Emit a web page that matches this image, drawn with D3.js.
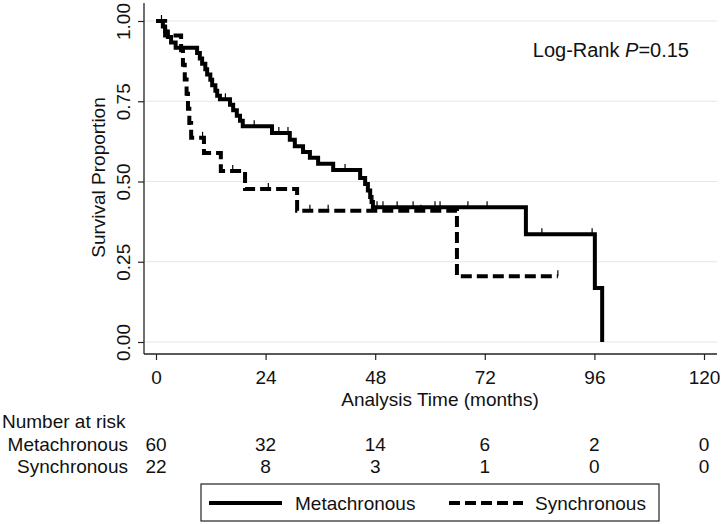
<!DOCTYPE html>
<html>
<head>
<meta charset="utf-8">
<script src="https://cdn.jsdelivr.net/npm/d3@7"></script>
<style>
  html, body { margin: 0; padding: 0; background: #fff; }
  svg { display: block; }
  text { font-family: "Liberation Sans", Arial, Helvetica, sans-serif; fill: #111; }
</style>
</head>
<body>
<div id="chart"></div>
<script>
// ---------------- data ----------------
const groups = ["Metachronous", "Synchronous"];

// Kaplan–Meier steps (time in months, survival after the event)
const metaTimes = [1.5, 2.0, 2.6, 3.3, 4.3, 9.0, 9.6, 10.1, 10.8, 11.2, 11.9, 12.3, 13.0, 13.4, 14.0,
                   16.2, 16.9, 17.7, 18.4, 19.0, 25.4, 29.3, 30.4, 32.2, 33.7, 35.5, 38.8,
                   44.7, 45.8, 46.4, 46.9, 47.2, 47.5, 81.0, 96.1, 97.7];
const metaSurv  = [0.983, 0.967, 0.950, 0.933, 0.917, 0.900, 0.883, 0.867, 0.850, 0.833, 0.817, 0.800, 0.783, 0.767, 0.756,
                   0.739, 0.722, 0.705, 0.689, 0.672, 0.651, 0.630, 0.610, 0.592, 0.574, 0.555, 0.536,
                   0.511, 0.492, 0.472, 0.452, 0.436, 0.420, 0.336, 0.168, 0.000];
const metaCensored = [1.2, 13.6, 15.2, 21.5, 26.9, 28.9, 41.4, 48.4, 49.7, 52.8, 56.3, 61.1, 62.2, 68.3, 72.5, 84.5, 95.5];
const metaEnd = 97.7;

const syncTimes = [2.0, 5.5, 5.9, 6.3, 6.7, 7.0, 7.3, 7.7, 10.5, 14.2, 19.5, 30.9, 65.9];
const syncSurv  = [0.955, 0.909, 0.864, 0.818, 0.773, 0.727, 0.682, 0.636, 0.589, 0.533, 0.477, 0.409, 0.205];
const syncCensored = [10.2, 16.8, 24.6, 33.7, 37.7, 58.0, 88.0];
const syncEnd = 88.0;

// axes
const xTicks = [0, 24, 48, 72, 96, 120];
const yTicks = [0, 0.25, 0.5, 0.75, 1.0];

// number at risk table
const riskTimes = [0, 24, 48, 72, 96, 120];
const metaRisk = [60, 32, 14, 6, 2, 0];
const syncRisk = [22, 8, 3, 1, 0, 0];

const pLabel = "0.15";

// ---------------- drawing ----------------
const W = 723, H = 524;
const svg = d3.select("#chart").append("svg").attr("width", W).attr("height", H);

const x = d3.scaleLinear().domain([0, 120]).range([156, 704]);
const y = d3.scaleLinear().domain([0, 1]).range([342, 21]);

const axisX0 = 144, axisY0 = 354;
const FS = 19;

// gridlines
svg.append("g").selectAll("line").data(yTicks).join("line")
  .attr("x1", axisX0 + 1).attr("x2", 717)
  .attr("y1", d => y(d)).attr("y2", d => y(d))
  .attr("stroke", "#e6e6e6").attr("stroke-width", 1.2);

// y axis
const gy = svg.append("g").attr("transform", `translate(${axisX0},0)`)
  .call(d3.axisLeft(y).tickValues(yTicks).tickFormat(d3.format(".2f")).tickSize(6).tickSizeOuter(0));
gy.select(".domain").remove();
gy.selectAll(".tick line").attr("stroke", "#222").attr("stroke-width", 1.2);
gy.selectAll(".tick text")
  .attr("transform", "rotate(-90)")
  .attr("x", 0).attr("y", -14).attr("dy", 0)
  .attr("text-anchor", "middle")
  .style("font-size", FS + "px").style("font-family", "Liberation Sans, Arial, sans-serif").attr("fill", "#111");
svg.append("line").attr("x1", axisX0).attr("x2", axisX0).attr("y1", 3).attr("y2", axisY0)
  .attr("stroke", "#222").attr("stroke-width", 1.3);

// x axis
const gx = svg.append("g").attr("transform", `translate(0,${axisY0})`)
  .call(d3.axisBottom(x).tickValues(xTicks).tickSize(6).tickSizeOuter(0));
gx.select(".domain").remove();
gx.selectAll(".tick line").attr("stroke", "#222").attr("stroke-width", 1.2);
gx.selectAll(".tick text").attr("y", 30).attr("dy", 0)
  .style("font-size", FS + "px").style("font-family", "Liberation Sans, Arial, sans-serif").attr("fill", "#111");
svg.append("line").attr("x1", axisX0).attr("x2", 717).attr("y1", axisY0).attr("y2", axisY0)
  .attr("stroke", "#222").attr("stroke-width", 1.3);

// axis titles
svg.append("text").attr("transform", `translate(104.5,177.5) rotate(-90)`)
  .attr("text-anchor", "middle").style("font-size", FS + "px").text("Survival Proportion");
svg.append("text").attr("x", 440).attr("y", 406)
  .attr("text-anchor", "middle").style("font-size", FS + "px").text("Analysis Time (months)");

// step curves
function stepPoints(times, surv, end) {
  const pts = [[0, 1]];
  times.forEach((t, i) => pts.push([t, surv[i]]));
  const last = pts[pts.length - 1];
  if (end > last[0]) pts.push([end, last[1]]);
  return pts;
}
function survAt(times, surv, t) {
  const i = d3.bisectRight(times, t);
  return i === 0 ? 1 : surv[i - 1];
}
const line = d3.line().x(d => x(d[0])).y(d => y(d[1])).curve(d3.curveStepAfter);

const series = [
  { name: groups[0], times: metaTimes, surv: metaSurv, cens: metaCensored, end: metaEnd, dash: null },
  { name: groups[1], times: syncTimes, surv: syncSurv, cens: syncCensored, end: syncEnd, dash: "11,5" }
];

series.forEach(s => {
  svg.append("path").datum(stepPoints(s.times, s.surv, s.end))
    .attr("d", line).attr("fill", "none").attr("stroke", "#000")
    .attr("stroke-width", 4).attr("stroke-dasharray", s.dash)
    .attr("stroke-linejoin", "miter").attr("stroke-linecap", "butt");
  svg.append("g").selectAll("line").data(s.cens).join("line")
    .attr("x1", d => x(d)).attr("x2", d => x(d))
    .attr("y1", d => y(survAt(s.times, s.surv, d)))
    .attr("y2", d => y(survAt(s.times, s.surv, d)) - 6)
    .attr("stroke", "#000").attr("stroke-width", 1.2);
});

// Log-rank annotation
const lr = svg.append("text").attr("x", 689).attr("y", 57).attr("text-anchor", "end").style("font-size", "20px");
lr.append("tspan").text("Log-Rank ");
lr.append("tspan").style("font-style", "italic").text("P");
lr.append("tspan").text("=" + pLabel);

// number at risk
svg.append("text").attr("x", 2).attr("y", 428).style("font-size", FS + "px").text("Number at risk");
const riskRows = [
  { name: groups[0], vals: metaRisk, yb: 451 },
  { name: groups[1], vals: syncRisk, yb: 473 }
];
riskRows.forEach(r => {
  svg.append("text").attr("x", 128).attr("y", r.yb).attr("text-anchor", "end")
    .style("font-size", FS + "px").text(r.name);
  svg.append("g").selectAll("text").data(r.vals).join("text")
    .attr("x", (d, i) => x(riskTimes[i])).attr("y", r.yb)
    .attr("text-anchor", "middle").style("font-size", FS + "px").text(d => d);
});

// legend
const lg = svg.append("g");
lg.append("rect").attr("x", 201).attr("y", 484).attr("width", 458).attr("height", 37)
  .attr("fill", "#fff").attr("stroke", "#222").attr("stroke-width", 1.2);
const legendItems = [
  { name: groups[0], x0: 209, x1: 282, tx: 295, dash: null },
  { name: groups[1], x0: 449, x1: 523, tx: 535, dash: "11,5" }
];
legendItems.forEach(it => {
  lg.append("line").attr("x1", it.x0).attr("x2", it.x1).attr("y1", 503).attr("y2", 503)
    .attr("stroke", "#000").attr("stroke-width", 4).attr("stroke-dasharray", it.dash);
  lg.append("text").attr("x", it.tx).attr("y", 510).style("font-size", FS + "px").text(it.name);
});
</script>
</body>
</html>
